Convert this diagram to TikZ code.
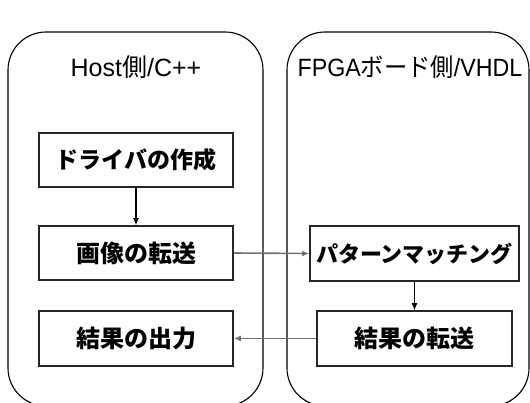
\documentclass[tikz,border=0pt]{standalone}
\usepackage{fontspec}
\setmainfont{Liberation Sans}
\newfontfamily\cjk{Noto Sans CJK JP}
\usetikzlibrary{arrows.meta}
\tikzset{
  container/.style={draw=black, line width=1.1pt, rounded corners=38pt},
  stepbox/.style={draw=black!85, line width=1.5pt, fill=white, inner sep=0pt, minimum height=54pt, font=\fontsize{24}{26}\selectfont\cjk\bfseries},
  smalltext/.style={font=\fontsize{23}{25}\selectfont\cjk\bfseries},
  narrowtext/.style={font=\fontsize{22}{24}\selectfont\cjk\bfseries},
  title/.style={inner sep=0pt, font=\fontsize{25}{27}\selectfont},
  flow/.style={line width=1.2pt, -{Latex[length=7pt,width=6pt]}},
  greyflow/.style={flow, line width=1.6pt, draw=black!55, -{Latex[length=7pt,width=6pt,fill=black]}},
}
\begin{document}
\begin{tikzpicture}[x=1pt,y=-1pt]
\useasboundingbox (0,0) rectangle (530,403);
\clip (0,0) rectangle (530,403);
\draw[container] (8,32) rectangle (263,406);
\draw[container] (287,32) rectangle (529,406);
\node[title] (t1) at (136,67) {Host{\cjk 側}/C++};
\node[title, xscale=0.93] (t2) at (410,67) {FPGA{\cjk ボード側}/VHDL};
\node[stepbox, smalltext, minimum width=194pt] (b1) at (136,160) {ドライバの作成};
\node[stepbox, minimum width=194pt] (b2) at (136,253) {画像の転送};
\node[stepbox, minimum width=194pt, minimum height=55pt] (b3) at (136,338.5) {結果の出力};
\node[stepbox, narrowtext, minimum width=209pt, minimum height=55pt] (b4) at (414.5,253.5) {パターンマッチング};
\node[stepbox, minimum width=195pt, minimum height=55pt] (b5) at (414.5,338.5) {結果の転送};
\draw[flow] (b1.south) -- (b2.north);
\draw[greyflow] (b2.east) -- (b4.west);
\draw[flow] (b4.south) -- (b5.north);
\draw[greyflow] (b5.west) -- (b3.east);
\end{tikzpicture}
\end{document}
